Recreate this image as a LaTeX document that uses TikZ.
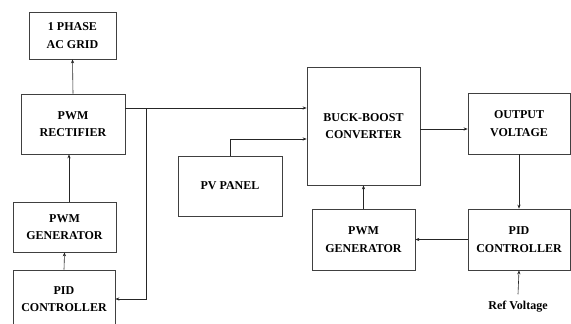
\documentclass[tikz,border=0pt]{standalone}
\usepackage{fontspec}
\setmainfont{Liberation Serif}
\usetikzlibrary{arrows.meta}
\tikzset{
  blk/.style={draw=black!75, line width=0.7pt, align=center, inner sep=0pt,
    font=\bfseries\fontsize{12}{17.5}\selectfont},
  conn/.style={draw=black!85, line width=0.6pt, -{Stealth[length=4pt,width=3.2pt]}},
  thick conn/.style={conn, line width=0.9pt}
}
\begin{document}
\begin{tikzpicture}[x=1pt,y=-1pt]
\useasboundingbox (0,0) rectangle (571,324);
\begin{scope}
\clip (0,0) rectangle (571,324);
\node[blk, minimum width=87pt, minimum height=47pt] (ac) at (72.5,35.5) {1 PHASE\\AC GRID};
\node[blk, minimum width=104pt, minimum height=60pt] (rect) at (73,124) {PWM\\RECTIFIER};
\node[blk, minimum width=103pt, minimum height=50pt] (genL) at (64.5,227) {PWM\\GENERATOR};
\node[blk, minimum width=102pt, minimum height=58pt] (pidL) at (64,299) {PID\\CONTROLLER};
\node[blk, minimum width=104pt, minimum height=60pt] (pv) at (230,186) {PV PANEL};
\node[blk, minimum width=113pt, minimum height=118pt] (buck) at (363.5,126) {BUCK-BOOST\\CONVERTER};
\node[blk, minimum width=102pt, minimum height=61pt] (out) at (519,123.5) {OUTPUT\\VOLTAGE};
\node[blk, minimum width=103pt, minimum height=61pt] (genR) at (363.5,239.5) {PWM\\GENERATOR};
\node[blk, minimum width=102pt, minimum height=61pt] (pidR) at (519,239.5) {PID\\CONTROLLER};
\node[font=\bfseries\fontsize{12}{14}\selectfont, inner sep=1pt] (ref) at (518,307) {Ref Voltage};
\coordinate (j) at (146,108);

\draw[conn] (rect.north) -- (ac.south);
\draw[conn] ([xshift=4.5pt]genL.north) -- ([xshift=4.5pt]genL.north |- rect.south);
\draw[conn] (pidL.north) -- (genL.south);
\draw[line width=0.9pt, draw=black!85] (rect.east |- j) -- (j);
\draw[thick conn] (j) -- (j -| buck.west);
\draw[thick conn] (j) |- (pidL.east);
\draw[conn] (pv.north) |- ([yshift=-13pt]buck.west);
\draw[conn] ([yshift=-3pt]buck.east) -- ([yshift=-3pt]buck.east -| out.west);
\draw[conn] (out.south) -- (pidR.north);
\draw[conn] (pidR.west) -- (genR.east);
\draw[conn] (genR.north) -- (buck.south);
\draw[conn] ([yshift=6pt]ref.north) -- (pidR.south);
\end{scope}
\end{tikzpicture}
\end{document}
